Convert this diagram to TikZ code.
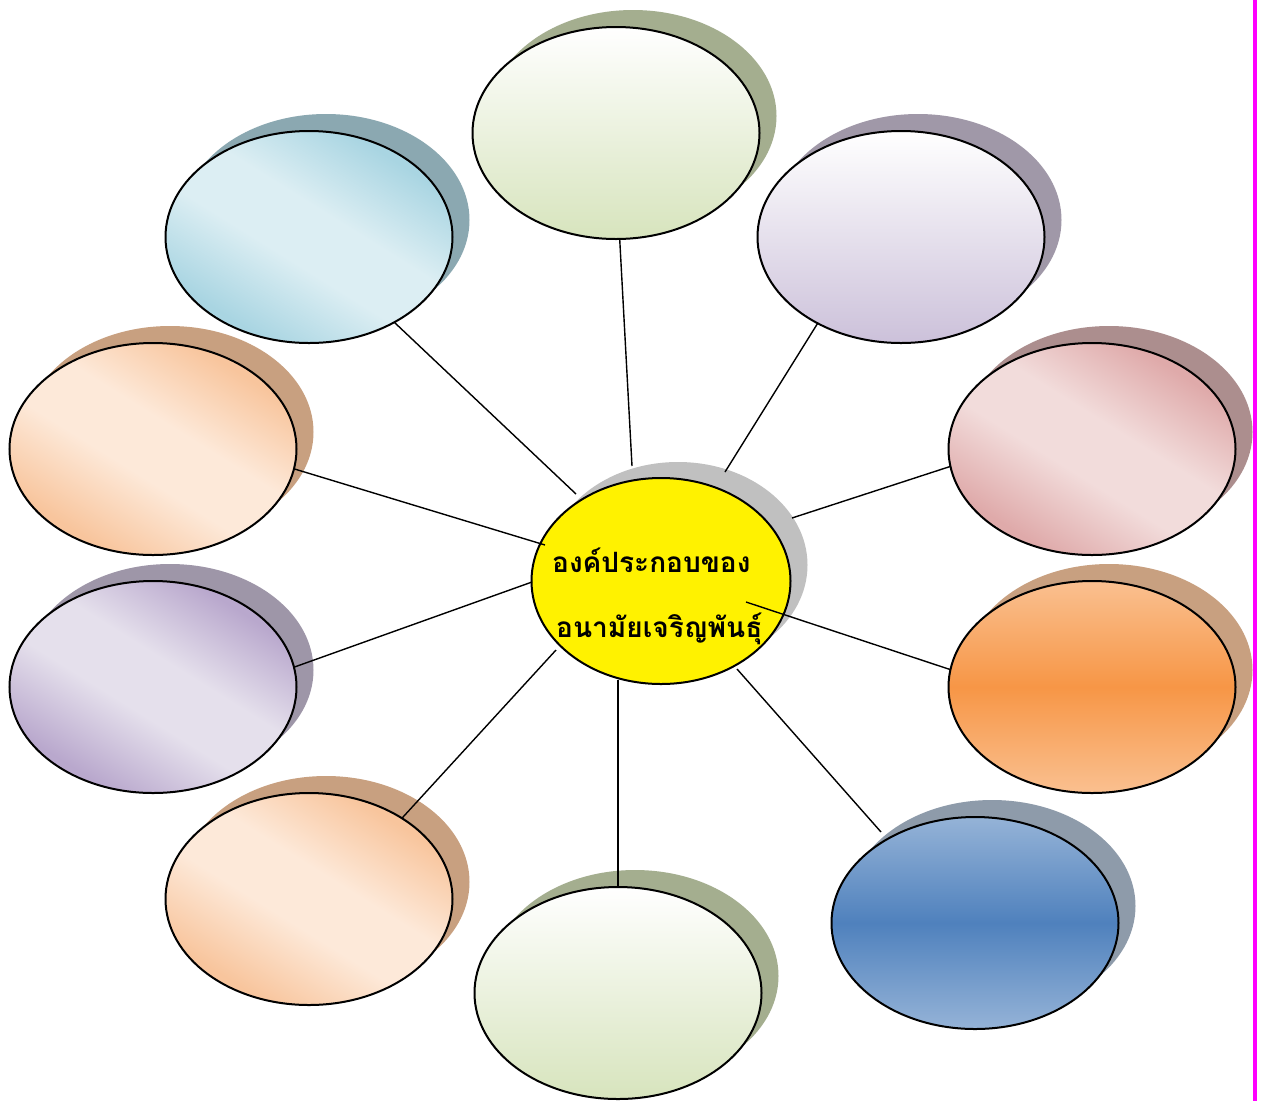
\documentclass[tikz,border=0pt]{standalone}
\usepackage{fontspec}
\newfontfamily\thaifont[Script=Thai]{Loma}
\usetikzlibrary{shapes.geometric}
\definecolor{gLow}{HTML}{D7E4BD}
\definecolor{gSh}{HTML}{A4AE8F}
\definecolor{bCor}{HTML}{A9D5E2}
\definecolor{bMid}{HTML}{DCEEF3}
\definecolor{bSh}{HTML}{8BA8B1}
\definecolor{lLow}{HTML}{CCC1DA}
\definecolor{lSh}{HTML}{A098A8}
\definecolor{pCor}{HTML}{F8C59D}
\definecolor{pMid}{HTML}{FDE9D9}
\definecolor{pSh}{HTML}{C8A080}
\definecolor{rCor}{HTML}{DFAAAA}
\definecolor{rMid}{HTML}{F2DCDB}
\definecolor{rSh}{HTML}{AC8E8E}
\definecolor{vCor}{HTML}{B9A8CD}
\definecolor{vMid}{HTML}{E5E0EC}
\definecolor{vSh}{HTML}{9E96A8}
\definecolor{oEnd}{HTML}{FAC090}
\definecolor{oMid}{HTML}{F79646}
\definecolor{uEnd}{HTML}{95B3D7}
\definecolor{uMid}{HTML}{4F81BD}
\definecolor{uSh}{HTML}{8E9BAA}
\definecolor{ySh}{HTML}{C0C0C0}
\definecolor{mag}{HTML}{FF00FF}
\pgfdeclareverticalshading{diagB}{100bp}{color(0bp)=(bCor); color(27bp)=(bCor); color(44bp)=(bMid); color(56bp)=(bMid); color(73bp)=(bCor); color(100bp)=(bCor)}
\pgfdeclareverticalshading{diagP}{100bp}{color(0bp)=(pCor); color(27bp)=(pCor); color(44bp)=(pMid); color(56bp)=(pMid); color(73bp)=(pCor); color(100bp)=(pCor)}
\pgfdeclareverticalshading{diagR}{100bp}{color(0bp)=(rCor); color(27bp)=(rCor); color(44bp)=(rMid); color(56bp)=(rMid); color(73bp)=(rCor); color(100bp)=(rCor)}
\pgfdeclareverticalshading{diagV}{100bp}{color(0bp)=(vCor); color(27bp)=(vCor); color(44bp)=(vMid); color(56bp)=(vMid); color(73bp)=(vCor); color(100bp)=(vCor)}
\begin{document}
\begin{tikzpicture}[x=1pt,y=-1pt,
  bubble/.style={ellipse, draw=black, line width=2pt, inner sep=0pt, outer sep=0pt,
    minimum width=287pt, minimum height=212pt},
  shadowbub/.style={ellipse, inner sep=0pt, outer sep=0pt, fill=#1,
    minimum width=287pt, minimum height=212pt},
  vshade/.style={top color=white, bottom color=#1},
  triv/.style 2 args={top color=#1, bottom color=#1, middle color=#2},
  diag/.style={shade, shading=#1, shading angle=-32},
  conn/.style={line width=1.4pt, draw=black},
  thaitxt/.style={font=\thaifont\bfseries\fontsize{28}{33}\selectfont, inner sep=0pt, anchor=base west}
]
\useasboundingbox (0,0) rectangle (1266,1101);
\fill[white] (0,0) rectangle (1266,1101);

% shadows and bubbles
\node[shadowbub=gSh] (s1) at (633,116) {};
\node[bubble, vshade=gLow] (b1) at (616,133) {};

\node[shadowbub=bSh] (s2) at (326,220) {};
\node[bubble, diag=diagB] (b2) at (309,237) {};

\node[shadowbub=lSh] (s3) at (918,220) {};
\node[bubble, vshade=lLow] (b3) at (901,237) {};

\node[shadowbub=pSh] (s4) at (170,432) {};
\node[bubble, diag=diagP] (b4) at (153,449) {};

\node[shadowbub=rSh] (s5) at (1109,432) {};
\node[bubble, diag=diagR] (b5) at (1092,449) {};

\node[shadowbub=vSh] (s6) at (170,670) {};
\node[bubble, diag=diagV] (b6) at (153,687) {};

\node[shadowbub=pSh] (s7) at (1109,670) {};
\node[bubble, triv={oEnd}{oMid}] (b7) at (1092,687) {};

\node[shadowbub=pSh] (s8) at (326,882) {};
\node[bubble, diag=diagP] (b8) at (309,899) {};

\node[shadowbub=gSh] (s9) at (635,976) {};
\node[bubble, vshade=gLow] (b9) at (618,993) {};

\node[shadowbub=uSh] (s10) at (992,906) {};
\node[bubble, triv={uEnd}{uMid}] (b10) at (975,923) {};

% centre
\node[ellipse, fill=ySh, inner sep=0pt, minimum width=259pt, minimum height=206pt] (cs) at (678,565) {};
\node[ellipse, draw=black, line width=2pt, fill=yellow, inner sep=0pt, minimum width=259pt, minimum height=206pt] (c) at (661,581) {};

% inner ends of the connectors
\coordinate (i1) at (632,466);
\coordinate (i2) at (576,494);
\coordinate (i3) at (725,472);
\coordinate (i4) at (545,545);
\coordinate (i5) at (792,518);
\coordinate (i6) at (532,582);
\coordinate (i7) at (746,602);
\coordinate (i8) at (556,650);
\coordinate (i9) at (618,680);
\coordinate (i10) at (737,669);
\coordinate (o10) at (881,832);

\draw[conn] (b1.272) -- (i1);
\draw[conn] (b2.315) -- (i2);
\draw[conn] (b3.226) -- (i3);
\draw[conn] (b4.352) -- (i4);
\draw[conn] (b5.187) -- (i5);
\draw[conn] (b6.8) -- (i6);
\draw[conn] (b7.173) -- (i7);
\draw[conn] (b8.41) -- (i8);
\draw[conn] (b9.90) -- (i9);
\draw[conn] (o10) -- (i10);

\node[thaitxt] (t1) at (552,572) {องค์ประกอบของ};
\node[thaitxt] (t2) at (556,637) {อนามัยเจริญพันธุ์};

% magenta rule at the right edge
\fill[mag] (1253,0) rectangle (1257,1101);
\end{tikzpicture}
\end{document}
